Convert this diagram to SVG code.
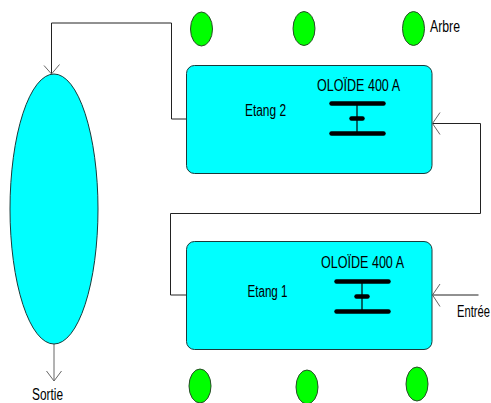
<svg xmlns="http://www.w3.org/2000/svg" width="491" height="403" viewBox="0 0 491 403">
<style>
text{font-family:"Liberation Sans",Arial,sans-serif;font-size:16px;fill:#000}
.tank{fill:#00ffff;stroke:#1a3a3a;stroke-width:1}
.tree{fill:#00ff00;stroke:#2a4a2a;stroke-width:1}
.line{fill:none;stroke:#222;stroke-width:1}
.head{fill:none;stroke:#666;stroke-width:1}
.bar{stroke:#000;stroke-width:4.500;stroke-linecap:round}
.stem{stroke:#000;stroke-width:1.200}
</style>
<rect width="491" height="403" fill="#fff"/>
<g id="connectors">
<path class="line" d="M186.500 119H171.500V23H51.500V74"/>
<path class="head" d="M44 65.500L51.500 74L59.500 64.500"/>
<path class="line" d="M433 123.500H480.500V213.500H170.500V295H186.500"/>
<path class="head" d="M440 112.500L432.500 123.500L440 134.500"/>
<path class="line" d="M478.500 295H433"/>
<path class="head" d="M440 284L432.500 295L440 306.500"/>
<path class="head" d="M54 344V381"/>
<path class="head" d="M46.500 371L54 381L61.500 371"/>
</g>
<g id="settler"><ellipse class="tank" cx="54" cy="209" rx="44" ry="135"/></g>
<g id="etang2">
<rect class="tank" x="186.500" y="65.500" width="245.500" height="108" rx="8"/>
<text x="245" y="116" textLength="41" lengthAdjust="spacingAndGlyphs">Etang 2</text>
<text x="317" y="91" textLength="83" lengthAdjust="spacingAndGlyphs">OLOÏDE 400 A</text>
<line class="stem" x1="357" y1="104" x2="357" y2="133"/>
<line class="bar" x1="331.500" y1="103.500" x2="383.500" y2="103.500"/>
<line class="bar" x1="351.500" y1="118.500" x2="362.500" y2="118.500"/>
<line class="bar" x1="331.500" y1="133.500" x2="383.500" y2="133.500"/>
</g>
<g id="etang1">
<rect class="tank" x="186.500" y="241.500" width="245.500" height="108" rx="8"/>
<text x="247.500" y="296.500" textLength="40" lengthAdjust="spacingAndGlyphs">Etang 1</text>
<text x="321" y="268" textLength="83" lengthAdjust="spacingAndGlyphs">OLOÏDE 400 A</text>
<line class="stem" x1="362" y1="282" x2="362" y2="311"/>
<line class="bar" x1="336.500" y1="281.500" x2="388.500" y2="281.500"/>
<line class="bar" x1="356.500" y1="296.500" x2="367.500" y2="296.500"/>
<line class="bar" x1="336.500" y1="311.500" x2="388.500" y2="311.500"/>
</g>
<g id="trees-top">
<ellipse class="tree" cx="201.500" cy="29" rx="11" ry="17"/>
<ellipse class="tree" cx="304" cy="28.500" rx="11" ry="17"/>
<ellipse class="tree" cx="413.500" cy="28.500" rx="11" ry="17"/>
</g>
<g id="trees-bottom">
<ellipse class="tree" cx="200" cy="386" rx="11" ry="17"/>
<ellipse class="tree" cx="307" cy="387" rx="11" ry="17"/>
<ellipse class="tree" cx="417" cy="384" rx="11" ry="17"/>
</g>
<g id="label-arbre"><text x="430" y="32" textLength="30" lengthAdjust="spacingAndGlyphs">Arbre</text></g>
<g id="label-entree"><text transform="translate(457 317) scale(.7 1)">Entrée</text></g>
<g id="label-sortie"><text x="32" y="399.500" textLength="31" lengthAdjust="spacingAndGlyphs">Sortie</text></g>
</svg>
